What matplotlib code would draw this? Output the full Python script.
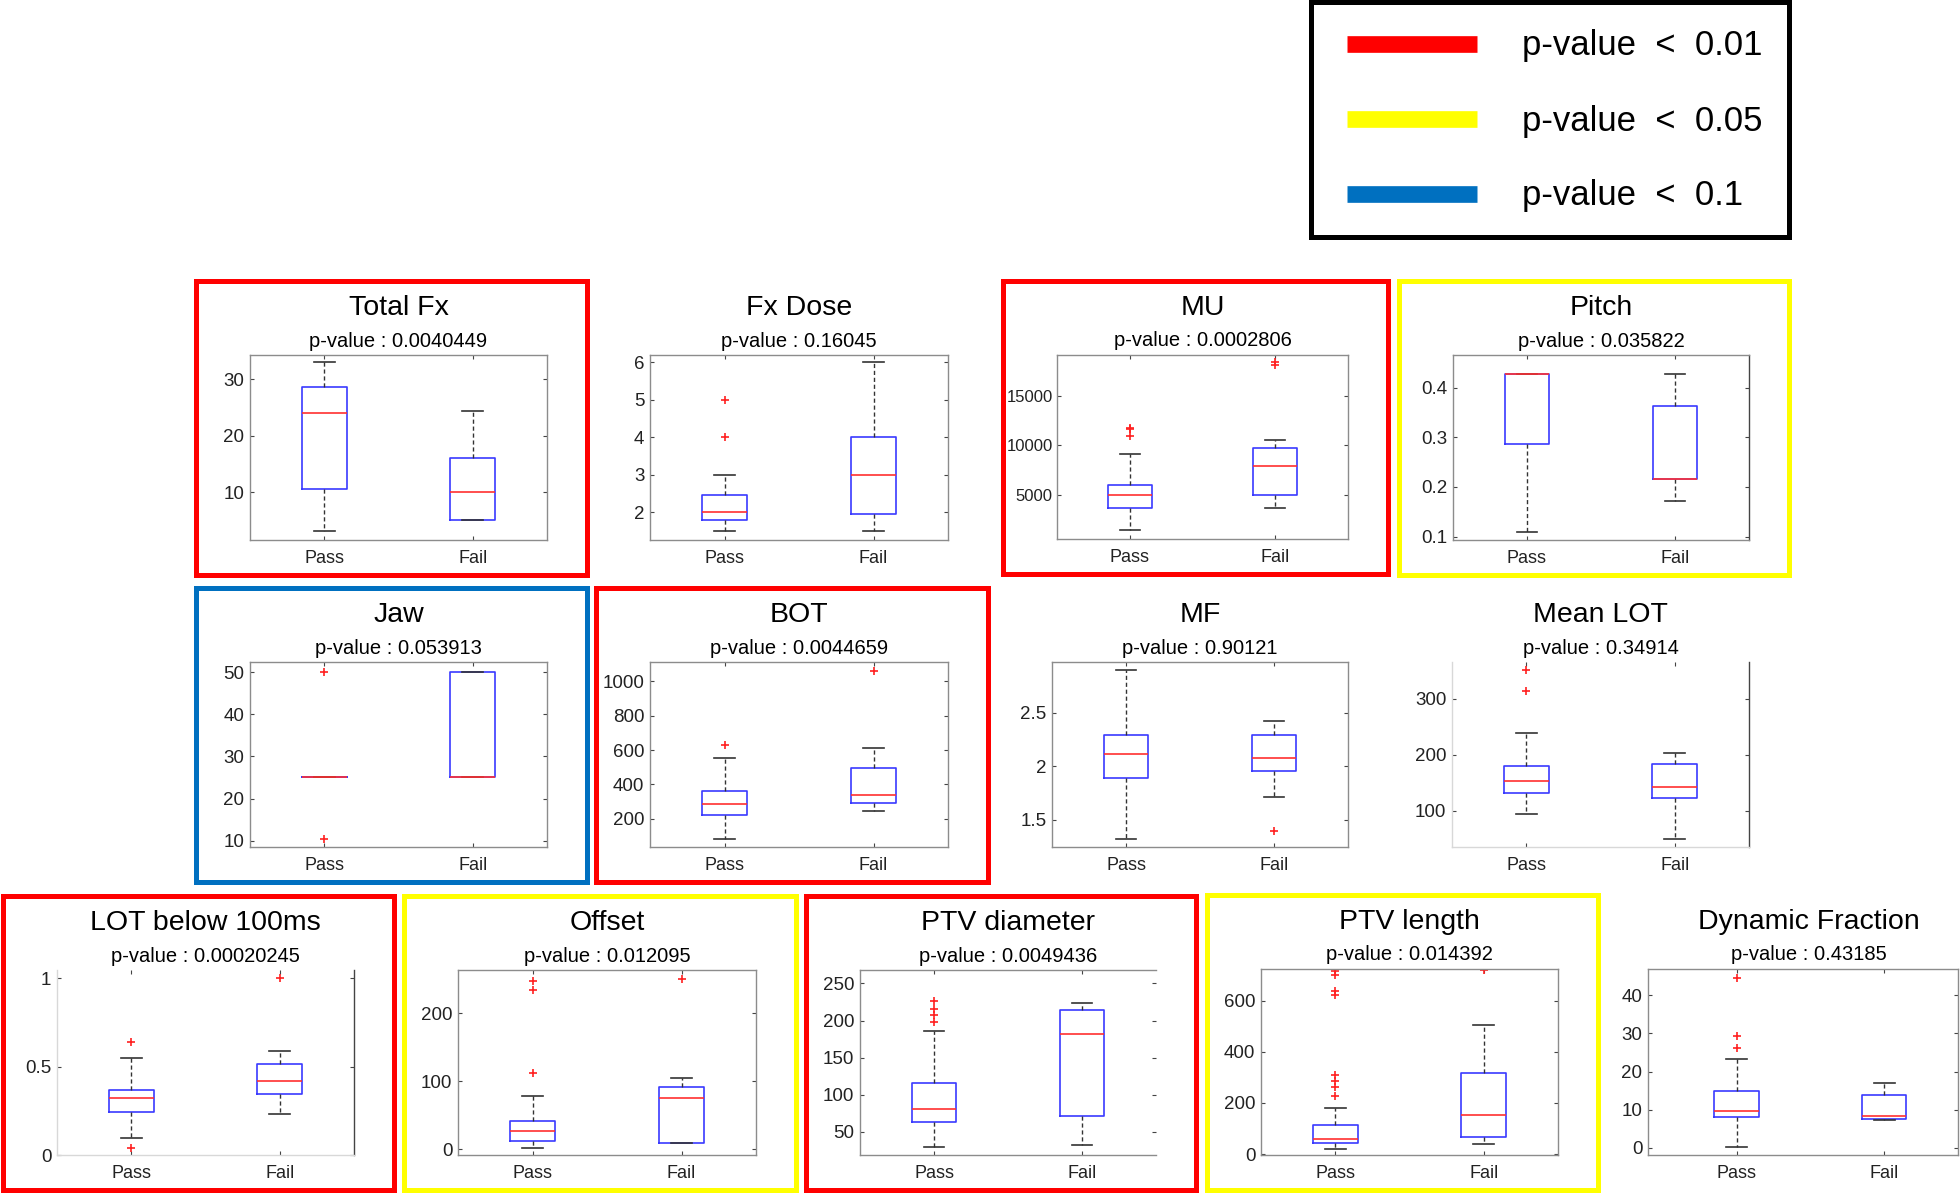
import matplotlib
matplotlib.use("Agg")
import matplotlib.pyplot as plt
from matplotlib.patches import Rectangle
from matplotlib.lines import Line2D
from matplotlib.transforms import offset_copy
from matplotlib.ticker import FuncFormatter

# --- data ---
titles = ["Total Fx", "Fx Dose", "MU", "Pitch",
          "Jaw", "BOT", "MF", "Mean LOT",
          "LOT below 100ms", "Offset", "PTV diameter", "PTV length", "Dynamic Fraction"]
pvalues = ["0.0040449", "0.16045", "0.0002806", "0.035822",
           "0.053913", "0.0044659", "0.90121", "0.34914",
           "0.00020245", "0.012095", "0.0049436", "0.014392", "0.43185"]
groups = ["Pass", "Fail"]

# whislo, q1, median, q3, whishi
pass_box = [
    [3.1, 10.5, 24.1, 28.6, 33.0],
    [1.5, 1.8, 2.0, 2.46, 3.0],
    [1400, 3650, 5000, 6000, 9100],
    [0.11, 0.286, 0.428, 0.428, 0.428],
    [25, 25, 25, 25, 25],
    [84, 219, 285, 363, 555],
    [1.322, 1.891, 2.119, 2.291, 2.903],
    [93, 131, 153, 179, 238],
    [0.099, 0.245, 0.321, 0.370, 0.549],
    [2, 11.8, 27.5, 42.3, 79.1],
    [30.3, 63.5, 81.4, 116, 186.5],
    [22, 44, 61, 113, 180],
    [0.2, 8.1, 9.7, 14.9, 23.3],
]
fail_box = [
    [5.0, 5.0, 10.0, 16.1, 24.4],
    [1.5, 1.95, 3.0, 4.0, 6.0],
    [3650, 4950, 7900, 9750, 10550],
    [0.172, 0.216, 0.216, 0.363, 0.428],
    [25, 25, 25, 50, 50],
    [243, 293, 336, 495, 612],
    [1.716, 1.956, 2.081, 2.291, 2.428],
    [48.5, 121.6, 142.5, 183, 203],
    [0.232, 0.345, 0.417, 0.514, 0.590],
    [8.8, 8.8, 75.2, 91.9, 105],
    [32.5, 71, 182, 214, 223],
    [39, 66, 155, 319, 504],
    [7.2, 7.6, 8.5, 14.0, 17.1],
]
pass_fliers = [[], [4, 5], [10900, 11600, 11700], [], [10.5, 50], [631], [],
               [314, 352], [0.042, 0.639], [112, 234.5, 247.3],
               [197.5, 207, 216, 226], [229, 262, 284, 309, 620, 636, 700, 715],
               [26.3, 29.4, 44.6]]
fail_fliers = [[], [], [18100, 18350], [], [], [1058], [1.391], [], [1.0],
               [251], [], [720], []]

ylims = [(1.5, 34.3), (1.26, 6.2), (537, 19094), (0.093, 0.466),
         (8.5, 52.4), (35, 1113), (1.244, 2.978), (34.7, 366),
         (0, 1.047), (-8.4, 264), (19, 268), (-3, 723), (-1.85, 46.9)]
yticks = [[10, 20, 30], [2, 3, 4, 5, 6], [5000, 10000, 15000], [0.1, 0.2, 0.3, 0.4],
          [10, 20, 30, 40, 50], [200, 400, 600, 800, 1000], [1.5, 2, 2.5], [100, 200, 300],
          [0, 0.5, 1], [0, 100, 200], [50, 100, 150, 200, 250], [0, 200, 400, 600],
          [0, 10, 20, 30, 40]]

thresholds = [0.01, 0.05, 0.1]
sig_colors = ["#ff0000", "#ffff00", "#0070c0"]

# --- layout (pixels in the 1960x1195 output) ---
W, H = 1960, 1195
axes_px = [
    (250, 355, 547, 540), (650, 355, 948, 540), (1057, 355, 1348, 539), (1453, 355, 1749, 540),
    (250, 662, 547, 847), (650, 662, 948, 847), (1052, 662, 1348, 847), (1452, 662, 1749, 847),
    (57, 970, 354, 1155), (458, 970, 756, 1155), (860, 970, 1156, 1155),
    (1261, 969, 1558, 1155), (1648, 969, 1958, 1155),
]

plt.rcParams["font.family"] = ["Liberation Sans", "DejaVu Sans"]
fig = plt.figure(figsize=(W / 100, H / 100), dpi=100)


def fig_box(l, t, r, b):
    return [l / W, 1 - b / H, (r - l) / W, (b - t) / H]


fmt = FuncFormatter(lambda v, _: f"{v:g}")

for i, name in enumerate(titles):
    l, t, r, b = axes_px[i]
    ax = fig.add_axes(fig_box(l, t, r, b))
    stats = []
    for lab, box, fl in ((groups[0], pass_box[i], pass_fliers[i]),
                         (groups[1], fail_box[i], fail_fliers[i])):
        lo, q1, med, q3, hi = box
        stats.append(dict(label=lab, whislo=lo, q1=q1, med=med, q3=q3, whishi=hi, fliers=fl))
    ax.bxp(stats, positions=[1, 2], widths=0.3, capwidths=0.14,
           boxprops=dict(color="#3a3aff", lw=1.2),
           medianprops=dict(color="#ff3030", lw=1.2),
           whiskerprops=dict(color="#333333", lw=1.0, linestyle=(0, (3, 2))),
           capprops=dict(color="#333333", lw=1.2),
           flierprops=dict(marker="+", markeredgecolor="#ff2020", markersize=6, mew=1.2))
    ax.set_xlim(0.4 if i == 12 else 0.5, 2.5)
    ax.set_ylim(ylims[i])
    ax.set_yticks(yticks[i])
    ax.yaxis.set_major_formatter(fmt)
    ax.tick_params(direction="in", top=True, right=True, length=3, width=0.8,
                   color="#444444", labelcolor="#222222")
    ax.tick_params(axis="x", labelsize=13, pad=7.5)
    if name == "MU":
        ax.tick_params(axis="y", labelsize=12, pad=3)
    else:
        ax.tick_params(axis="y", labelsize=13.5, pad=4)
    for sp in ax.spines.values():
        sp.set_color("#8c8c8c")
        sp.set_linewidth(1.0)
    if name in ("Mean LOT", "LOT below 100ms"):
        ax.spines["top"].set_visible(False)
        ax.spines["left"].set_color("#d8d8d8")
        ax.spines["bottom"].set_color("#d8d8d8")
        ax.spines["right"].set_color("#444444")
    if name == "PTV diameter":
        ax.spines["right"].set_visible(False)
    if name == "Pitch":
        ax.spines["right"].set_color("#444444")

    tx = 0.52 if name == "Dynamic Fraction" else 0.5
    ax.text(tx, 1, name, transform=offset_copy(ax.transAxes, fig=fig, y=47, units="dots"),
            ha="center", va="center", fontsize=20.5)
    ax.text(tx, 1, f"p-value : {pvalues[i]}",
            transform=offset_copy(ax.transAxes, fig=fig, y=14, units="dots"),
            ha="center", va="center", fontsize=14.5)

    p = float(pvalues[i])
    for th, c in zip(thresholds, sig_colors):
        if p < th:
            fl_, ft_, fr_, fb_ = l - 54, t - 74, r + 40, b + 35
            fig.add_artist(Rectangle((fl_ / W, 1 - fb_ / H), (fr_ - fl_) / W, (fb_ - ft_) / H,
                                     transform=fig.transFigure, fill=False, ec=c, lw=3.6))
            break

# legend box
fig.add_artist(Rectangle((1311 / W, 1 - 237 / H), (1789 - 1311) / W, (237 - 2) / H,
                         transform=fig.transFigure, fill=False, ec="black", lw=3.6))
for th, c, y in zip(thresholds, sig_colors, [44, 119, 194]):
    fig.add_artist(Line2D([1347 / W, 1477 / W], [1 - y / H, 1 - y / H], color=c, lw=12,
                          solid_capstyle="butt", transform=fig.transFigure))
    fig.text(1522 / W, 1 - (y + 2) / H, f"p-value  <  {th:g}", va="center", ha="left",
             fontsize=25)

fig.savefig("out.png", dpi=100)
